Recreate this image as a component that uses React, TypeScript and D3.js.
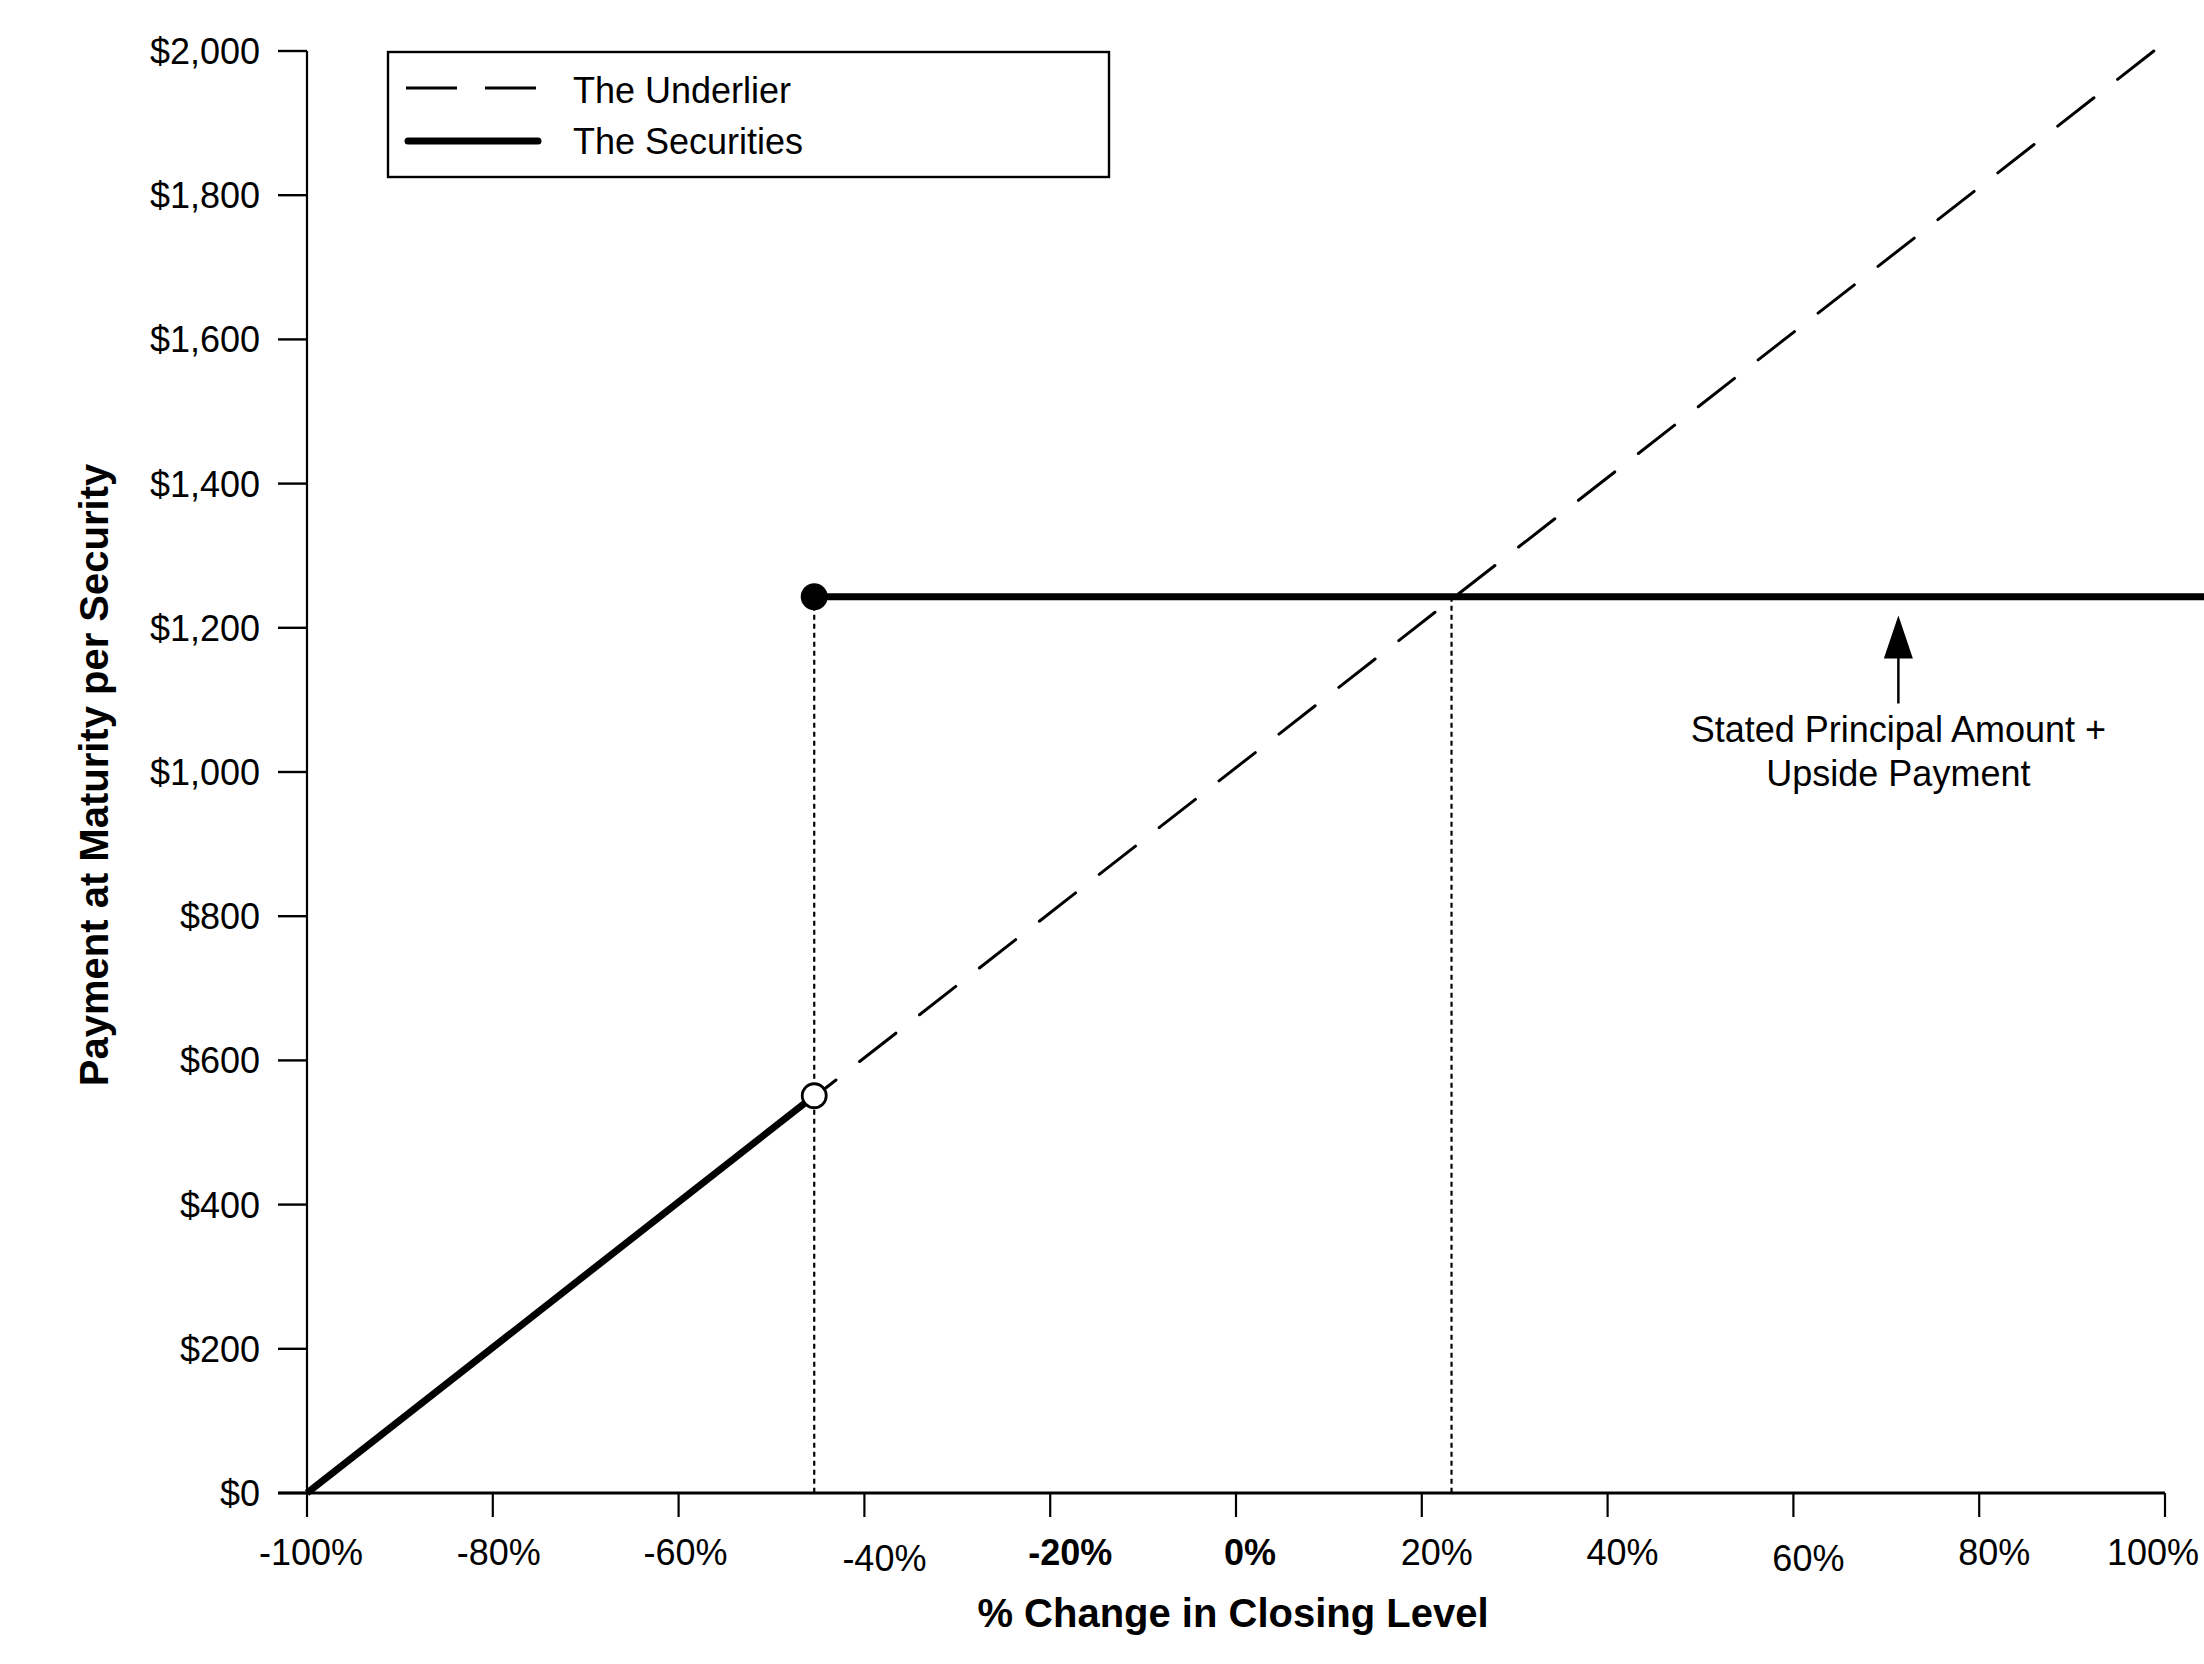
import React, { useEffect } from "react";
import * as d3 from "d3";

// ---- data ----
const xTicks = [-100, -80, -60, -40, -20, 0, 20, 40, 60, 80, 100];
const xTickLabels = ["-100%", "-80%", "-60%", "-40%", "-20%", "0%", "20%", "40%", "60%", "80%", "100%"];
const boldXLabels = ["-20%", "0%"];
const yTicks = [0, 200, 400, 600, 800, 1000, 1200, 1400, 1600, 1800, 2000];

// the underlier (dashed) path
const underlierPoints = [
  { pct: -100, pay: 0 },
  { pct: 98.8, pay: 2000 },
];
// the securities: knocked-in segment and capped segment
const securitiesLow = [
  { pct: -100, pay: 0 },
  { pct: -45.4, pay: 551 },
];
const securitiesCap = [
  { pct: -45.4, pay: 1243 },
  { pct: 106, pay: 1243 },
];
const guideLines = [
  { pct: -45.4, top: 1243 },
  { pct: 23.2, top: 1243 },
];
const openPoint = { pct: -45.4, pay: 551 };
const filledPoint = { pct: -45.4, pay: 1243 };
const arrowNote = { pct: 71.3, from: 1095, to: 1217 };
const noteLines = ["Stated Principal Amount +", "Upside Payment"];
const legendItems = ["The Underlier", "The Securities"];

// small label nudges as seen in the original
const xLabelDx = [4, 6, 7, 20, 20, 14, 15, 15, 15, 15, -12];
const xLabelDy = [0, 0, 0, 6, 0, 0, 0, 0, 6, 0, 0];

const W = 2204;
const H = 1664;
const FONT = "'Liberation Sans', Arial, sans-serif";

export default function App() {
  useEffect(() => {
    document.body.style.margin = "0";
  }, []);

  const x = d3.scaleLinear().domain([-100, 100]).range([307, 2165]);
  const y = d3.scaleLinear().domain([0, 2000]).range([1493, 51]);

  const line = d3
    .line<{ pct: number; pay: number }>()
    .x((d) => x(d.pct))
    .y((d) => y(d.pay));

  const fmt = d3.format(",");
  const arrowX = x(arrowNote.pct);
  const tipY = y(arrowNote.to);
  const tailY = y(arrowNote.from);

  return (
    <svg
      width={W}
      height={H}
      style={{ display: "block", position: "absolute", left: 0, top: 0, background: "#fff" }}
      fontFamily={FONT}
    >
      <rect x={0} y={0} width={W} height={H} fill="#fff" />

      {/* dotted guides */}
      {guideLines.map((g, i) => (
        <line
          key={i}
          x1={x(g.pct)}
          x2={x(g.pct)}
          y1={y(g.top)}
          y2={y(0)}
          stroke="#000"
          strokeWidth={2.2}
          strokeDasharray="5,4"
        />
      ))}

      {/* underlier, drawn from the top end so a dash finishes at the top */}
      <path
        d={line([...underlierPoints].reverse()) || ""}
        fill="none"
        stroke="#000"
        strokeWidth={3}
        strokeLinecap="round"
        strokeDasharray="46,30"
      />

      {/* securities */}
      <path d={line(securitiesLow) || ""} fill="none" stroke="#000" strokeWidth={7} />
      <path d={line(securitiesCap) || ""} fill="none" stroke="#000" strokeWidth={7} />

      <circle cx={x(openPoint.pct)} cy={y(openPoint.pay)} r={12} fill="#fff" stroke="#000" strokeWidth={2.8} />
      <circle cx={x(filledPoint.pct)} cy={y(filledPoint.pay)} r={13.5} fill="#000" />

      {/* y axis */}
      <line x1={x(-100)} x2={x(-100)} y1={y(2000)} y2={y(0)} stroke="#000" strokeWidth={2.2} />
      {yTicks.map((t) => (
        <g key={t}>
          <line x1={278} x2={x(-100)} y1={y(t)} y2={y(t)} stroke="#000" strokeWidth={2.4} />
          <text x={260} y={y(t)} dy="0.36em" textAnchor="end" fontSize={36} fill="#000">
            {"$" + fmt(t)}
          </text>
        </g>
      ))}

      {/* x axis */}
      <line x1={278} x2={x(100)} y1={y(0)} y2={y(0)} stroke="#000" strokeWidth={3} />
      {xTicks.map((t, i) => (
        <g key={t}>
          <line x1={x(t)} x2={x(t)} y1={y(0)} y2={y(0) + 24} stroke="#000" strokeWidth={2.2} />
          <text
            x={x(t) + xLabelDx[i]}
            y={1565 + xLabelDy[i]}
            textAnchor="middle"
            fontSize={36}
            fontWeight={boldXLabels.includes(xTickLabels[i]) ? "bold" : "normal"}
            fill="#000"
          >
            {xTickLabels[i]}
          </text>
        </g>
      ))}

      {/* axis titles */}
      <text x={1233} y={1627} textAnchor="middle" fontSize={40} fontWeight="bold" fill="#000">
        % Change in Closing Level
      </text>
      <text
        transform={`translate(108,775) rotate(-90)`}
        textAnchor="middle"
        fontSize={40}
        fontWeight="bold"
        fill="#000"
      >
        Payment at Maturity per Security
      </text>

      {/* annotation arrow */}
      <line x1={arrowX} x2={arrowX} y1={tailY} y2={tipY + 40} stroke="#000" strokeWidth={2.5} />
      <path
        d={`M${arrowX},${tipY} L${arrowX - 14.5},${tipY + 43} L${arrowX + 14.5},${tipY + 43} Z`}
        fill="#000"
      />
      {noteLines.map((s, i) => (
        <text key={s} x={arrowX} y={tailY + 38 + i * 44} textAnchor="middle" fontSize={36} fill="#000">
          {s}
        </text>
      ))}

      {/* legend */}
      <rect x={388} y={52} width={721} height={125} fill="#fff" stroke="#000" strokeWidth={2.4} />
      <line x1={406} x2={538} y1={88} y2={88} stroke="#000" strokeWidth={3} strokeDasharray="51,28" />
      <line x1={408} x2={538} y1={141} y2={141} stroke="#000" strokeWidth={7} strokeLinecap="round" />
      {legendItems.map((s, i) => (
        <text key={s} x={573} y={90 + i * 51} dy="0.36em" fontSize={36} fill="#000">
          {s}
        </text>
      ))}
    </svg>
  );
}
